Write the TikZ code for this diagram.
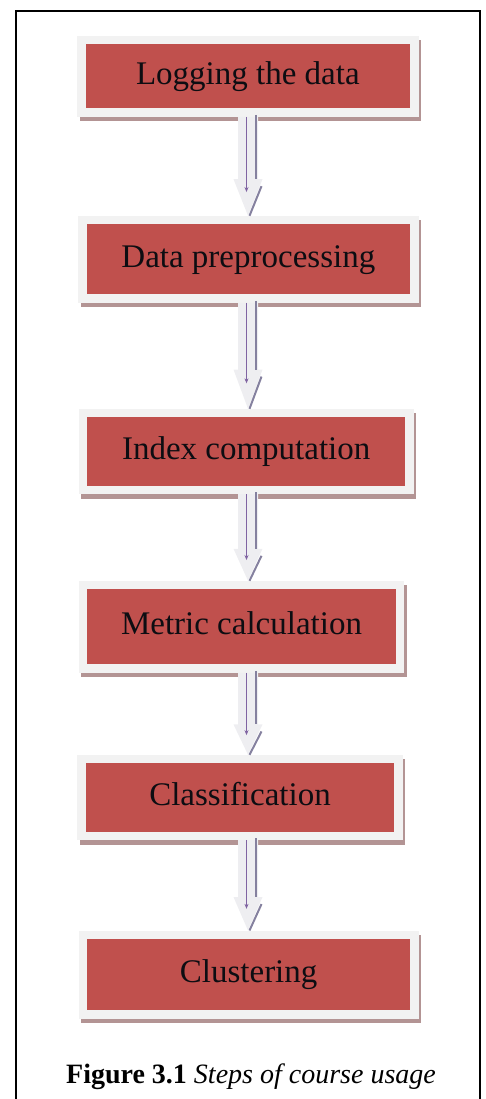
\documentclass[tikz,border=0pt]{standalone}
\usepackage{fontspec}
\setmainfont{Liberation Serif}
\usetikzlibrary{backgrounds,calc,arrows.meta}
\definecolor{boxred}{HTML}{C0504D}
\definecolor{framegray}{HTML}{F2F2F2}
\definecolor{shadowcol}{HTML}{B39494}
\definecolor{arrowfill}{HTML}{EEEEF1}
\definecolor{arrowpurple}{HTML}{8064A2}
\definecolor{arrowedge}{HTML}{85819F}
\definecolor{textcol}{HTML}{0D0D12}
\tikzset{
  stepbox/.style={fill=boxred, draw=framegray, line width=8.5pt, outer sep=4.25pt,
    inner sep=0pt, text=textcol, font=\fontsize{33}{40}\selectfont,
    text height=22pt, text depth=6pt},
  boxshadow/.style={fill=shadowcol},
  frameline/.style={draw=black, line width=2.5pt},
  captext/.style={font=\fontsize{28}{34}\selectfont, text=black, anchor=base, inner sep=0pt},
}
\newcommand\flowarrow[2]{%
  \fill[arrowfill] let \p1=(#1.south), \p2=(#2.north), \p3=($(#2.north)!0.37!(#1.south)$) in
    (238pt,\y1) -- (258pt,\y1) -- (258pt,\y3) -- (262.5pt,\y3) -- (248pt,\y2)
    -- (233.5pt,\y3) -- (238pt,\y3) -- cycle;
  \draw[arrowpurple, line width=1.2pt, -{Stealth[length=5pt,width=4pt]}]
    let \p1=(#1.south), \p4=($(#2.north)!0.24!(#1.south)$) in
    (246.5pt,\y1) -- (246.5pt,\y4);
  \draw[arrowedge, line width=1.8pt]
    let \p1=(#1.south), \p3=($(#2.north)!0.37!(#1.south)$) in
    (256pt,{\y1+2pt}) -- (256pt,\y3);
  \draw[arrowedge, line width=2pt]
    let \p2=(#2.north), \p3=($(#2.north)!0.37!(#1.south)$) in
    (261.5pt,{\y3-7pt}) -- (249.5pt,\y2);
}
\begin{document}
\begin{tikzpicture}[x=1pt,y=-1pt]
\useasboundingbox (0,0) rectangle (485,1099);
\draw[frameline] (16,1099) -- (16,11) -- (480,11) -- (480,1099);

\node[stepbox, minimum width=332.8pt, minimum height=72.8pt] (b1) at (247.85,76.2) {Logging the data};
\node[stepbox, minimum width=331.8pt, minimum height=78.5pt] (b2) at (248.35,259.3) {Data preprocessing};
\node[stepbox, minimum width=326.2pt, minimum height=76.9pt] (b3) at (246.2,451.5) {Index computation};
\node[stepbox, minimum width=316.9pt, minimum height=83.5pt] (b4) at (241.5,626.8) {Metric calculation};
\node[stepbox, minimum width=317.1pt, minimum height=76.9pt] (b5) at (240,797.5) {Classification};
\node[stepbox, minimum width=331.2pt, minimum height=79.5pt] (b6) at (248.65,974.5) {Clustering};

\begin{scope}[on background layer]
  \foreach \b in {b1,b2,b3,b4,b5,b6}{
    \fill[boxshadow] ([shift={(2.5,4.5)}]\b.north west) rectangle ([shift={(2.5,4.5)}]\b.south east);
  }
\end{scope}

\flowarrow{b1}{b2}
\flowarrow{b2}{b3}
\flowarrow{b3}{b4}
\flowarrow{b4}{b5}
\flowarrow{b5}{b6}

\node[captext] (cap) at (251,1083) {\textbf{Figure 3.1} \textit{Steps of course usage}};
\end{tikzpicture}
\end{document}
